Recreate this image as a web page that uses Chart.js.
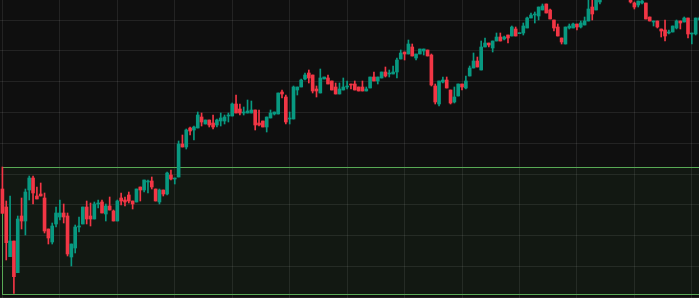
<!DOCTYPE html>
<html>
<head>
<meta charset="utf-8">
<script src="https://cdn.jsdelivr.net/npm/chart.js@4.4.1/dist/chart.umd.min.js"></script>
<style>
  html, body { margin: 0; padding: 0; background: #0f0f0f; }
  #wrap { width: 699px; height: 298px; position: relative; }
</style>
</head>
<body>
<div id="wrap"><canvas id="chart"></canvas></div>
<script>
// OHLC candles, one entry per bar (index = bar number)
const opens = [
  311, 293, 243.3, 259, 227.3, 284, 279, 310, 322, 304,
  306, 302, 271, 258, 276, 283, 287, 284, 243, 252,
  273, 276, 293, 284, 281, 296, 298, 286, 294, 289,
  279, 302, 300, 305, 299, 298, 313, 310, 318, 319,
  311, 298, 310, 306, 325, 321, 323, 356, 353, 372,
  370, 372, 383, 376, 380, 377, 375, 379, 379, 384,
  384, 396, 391, 387, 387, 387, 390, 377, 379, 373,
  382, 386, 386, 408, 403, 381, 381, 410, 413, 421,
  427, 425, 411, 407, 421, 422, 419, 413, 406, 410,
  413, 416, 416, 413, 413, 409, 412, 423, 419, 422,
  428, 426, 426, 428, 441, 448, 446, 453, 442, 446,
  449, 450, 445, 414, 396, 418, 420, 410, 398, 404,
  416, 412, 424, 432, 439, 430, 453, 457, 452, 459,
  463, 461, 465, 464, 471, 466.3, 467, 472, 482, 485,
  484, 490, 496, 490, 480, 473, 462, 456, 472, 472,
  476, 473, 475, 479, 493, 490, 498, 508, 516, 511,
  519, 514, 505, 510, 503, 497, 495, 497, 497, 483,
  478, 479, 471, 470, 467, 468, 472, 479, 478, 482,
  466, 466, 480
];
const highs = [
  333, 299, 304, 259, 284, 302, 311, 324, 324, 313,
  317, 307, 271, 277, 293, 300, 296, 287, 256, 275,
  283, 293, 299, 297, 298, 300, 300, 296, 303, 290,
  300, 307, 303, 308, 299, 311, 313, 320, 320, 323,
  311, 311, 310, 328, 330, 322, 359, 365, 371, 373,
  374, 388, 387, 380, 380, 385, 381, 387, 385, 387,
  397, 405, 396, 393, 400, 399, 390, 390, 379, 383,
  390, 388, 407, 410, 405, 388, 414, 413, 421, 427,
  430, 425, 414, 431, 423, 425, 419, 417, 417, 422,
  419, 416, 419, 413, 419, 413, 423, 428, 423, 428,
  433, 430, 434, 442, 450, 448, 460, 456, 446, 451,
  451, 450, 446, 416, 419, 423, 423, 410, 413, 416,
  416, 424, 434, 447, 443, 459, 462, 457, 459, 467,
  467, 464, 465, 474, 473, 467, 477, 483, 487, 488,
  493, 496, 496, 491, 480, 476, 462, 473, 476, 477,
  476, 479, 483, 502, 502, 506, 508, 516, 518, 523,
  521, 516, 514, 512, 505, 498, 499, 500, 497, 483,
  479, 479, 471, 480, 470, 474, 480, 479, 483, 482,
  467, 482, 483
];
const lows = [
  286.7, 240, 243.3, 206.7, 227.3, 271, 265, 300, 296, 301,
  304, 267, 256, 256, 273, 280, 277, 244, 234, 247,
  268, 276, 276, 274, 281, 292, 287, 279, 290, 279,
  279, 295, 294, 297, 291, 298, 299, 308, 307, 311,
  299, 296, 304, 305, 320, 316, 323, 353, 351, 365,
  360, 372, 374, 376, 373, 371, 373, 374, 376, 378,
  384, 387, 385, 385, 387, 387, 370, 374, 373, 368,
  382, 385, 386, 402, 376, 376, 381, 405, 413, 420,
  417, 407, 403, 407, 421, 416, 410, 406, 406, 410,
  411, 411, 410, 409, 409, 409, 412, 419, 416, 422,
  423, 423, 426, 422, 441, 440, 446, 444, 440, 446,
  445, 444, 414, 396, 394, 417, 412, 396, 397, 404,
  410, 411, 424, 432, 433, 430, 453, 453, 448, 459,
  459, 460, 457, 464, 464, 466.3, 465, 472, 482, 477,
  480, 490, 487, 481, 469, 464, 456, 456, 471, 472,
  470, 472, 475, 479, 480, 490, 496, 506, 508, 509,
  510, 504, 503, 501, 497, 491, 493, 496, 481, 479,
  474, 472, 463, 459, 466, 468, 471, 471, 478, 462,
  456, 465, 480
];
const closes = [
  286.7, 257.3, 259, 223.3, 281, 279, 308, 322, 307, 301,
  304, 269, 262, 274, 287, 287, 283, 246, 256, 273,
  273.7, 293, 281, 281, 296, 297, 287, 294, 290, 279,
  299, 299, 298, 299, 296, 311, 310, 320, 319, 313,
  299, 310, 306, 327, 321, 322, 356, 353, 370, 369,
  373, 385, 378, 380, 375, 373, 380, 382, 383, 385,
  396, 387, 387, 388, 389, 390, 375, 375, 373, 383,
  387, 388, 407, 406, 378, 382, 413, 413, 420, 425,
  422, 409, 409, 422, 423, 416, 410, 406, 411, 413,
  414, 415, 410, 409, 409, 411, 423, 419, 423, 428,
  424, 427, 428, 440, 447, 446, 456, 444, 446, 451,
  451, 444, 415, 398, 419, 420, 412, 397, 403, 416,
  413, 419, 432, 439, 433, 453, 457, 455, 459, 463,
  459, 463, 462, 473, 464, 467, 474, 482, 485, 486,
  493, 494, 487, 481, 472, 464, 458, 473, 474, 476,
  473, 477, 479, 491, 486, 504, 506, 514, 510, 520,
  512, 506, 512, 502, 498, 493, 499, 499, 481, 479,
  479, 473, 469, 464, 468, 474, 479, 477, 482, 466,
  467, 482, 482
];

// grid positions (no labels are shown on the chart)
const xGridIdx = [0, 15, 30, 45, 60, 75, 90, 105, 120, 135, 150, 165, 180];
const yGridVals = [202.5, 233.3, 264.2, 295, 325.8, 356.7, 387.5, 418.3, 449.2, 480];

// highlighted range box, from the first bar's high down to the range low
const boxStartIdx = 0;
const boxTop = 333;
const boxBottom = 206.3;

const upColor = '#089981';
const downColor = '#f23645';
const gridColor = 'rgba(255,255,255,0.085)';

const idx = opens.map((_, i) => i);
const colors = idx.map(i => closes[i] >= opens[i] ? upColor : downColor);

// draws the range box under the candles
const rangeBox = {
  id: 'rangeBox',
  beforeDatasetsDraw(chart) {
    const { ctx, chartArea, scales } = chart;
    const x0 = Math.round(scales.x.getPixelForValue(boxStartIdx)) + 0.5;
    const y0 = Math.round(scales.y.getPixelForValue(boxTop)) + 0.5;
    const y1 = Math.round(scales.y.getPixelForValue(boxBottom)) + 0.5;
    const x1 = chartArea.right + 5;
    ctx.save();
    ctx.fillStyle = 'rgba(76,175,80,0.055)';
    ctx.fillRect(x0, y0, x1 - x0, y1 - y0);
    ctx.strokeStyle = '#58a955';
    ctx.lineWidth = 1;
    ctx.strokeRect(x0, y0, x1 - x0, y1 - y0);
    ctx.restore();
  }
};

function hiddenAxis(extra) {
  return Object.assign({
    type: 'linear',
    offset: false,
    ticks: { display: false },
    border: { display: false },
    grid: { color: gridColor, drawTicks: false, tickLength: 0, offset: false }
  }, extra);
}

new Chart(document.getElementById('chart'), {
  type: 'bar',
  data: {
    datasets: [
      {
        label: 'wick',
        data: idx.map(i => ({ x: i, y: [lows[i], highs[i]] })),
        backgroundColor: colors,
        barThickness: 1,
        grouped: false,
        order: 2
      },
      {
        label: 'body',
        data: idx.map(i => ({ x: i, y: [opens[i], closes[i]] })),
        backgroundColor: colors,
        barThickness: 3,
        minBarLength: 1,
        grouped: false,
        order: 1
      }
    ]
  },
  options: {
    animation: false,
    responsive: true,
    maintainAspectRatio: false,
    layout: { padding: 0 },
    plugins: { legend: { display: false }, tooltip: { enabled: false } },
    scales: {
      x: hiddenAxis({
        min: -0.63,
        max: 181.87,
        afterBuildTicks: s => { s.ticks = xGridIdx.map(v => ({ value: v })); }
      }),
      y: hiddenAxis({
        min: 202,
        max: 500,
        afterBuildTicks: s => { s.ticks = yGridVals.map(v => ({ value: v })); }
      })
    }
  },
  plugins: [rangeBox]
});
</script>
</body>
</html>
